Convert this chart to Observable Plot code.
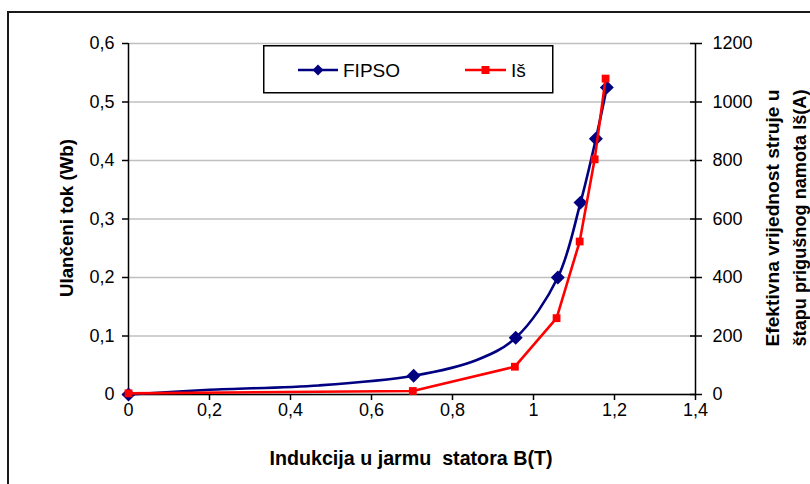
<!DOCTYPE html>
<html>
<head>
<meta charset="utf-8">
<script src="https://cdn.jsdelivr.net/npm/d3@7"></script>
<script src="https://cdn.jsdelivr.net/npm/@observablehq/plot@0.6"></script>
<style>
  html, body { margin: 0; padding: 0; background: #fff; overflow: hidden; }
  #wrap { position: relative; width: 810px; height: 484px; overflow: hidden; font-family: "Liberation Sans", Arial, sans-serif; }
  #frame { position: absolute; left: 7px; top: 11px; width: 900px; height: 600px; border: 2px solid #1a1a1a; box-sizing: border-box; }
  #chart { position: absolute; left: 0; top: 0; }
  #legend { position: absolute; left: 263px; top: 45px; }
</style>
</head>
<body>
<div id="wrap">
  <div id="frame"></div>
  <div id="chart"></div>
  <div id="legend"></div>
</div>
<script>
// ---- data ----
// FIPSO (left axis, Wb) – marker points
const fipsoB = [0, 0.704, 0.956, 1.060, 1.116, 1.154, 1.181];
const fipsoPsi = [0, 0.032, 0.097, 0.200, 0.328, 0.437, 0.525];
// FIPSO smoothed line points (includes unmarked intermediate points)
const fipsoLineB = [0, 0.20, 0.47, 0.704, 0.86, 0.956, 1.060, 1.116, 1.154, 1.181];
const fipsoLinePsi = [0, 0.008, 0.0155, 0.032, 0.059, 0.097, 0.200, 0.328, 0.437, 0.525];
// Iš (right axis, A)
const isB = [0, 0.702, 0.954, 1.057, 1.114, 1.151, 1.178];
const isA = [4, 12, 95, 261, 523, 804, 1080];

const xTicks = [0, 0.2, 0.4, 0.6, 0.8, 1, 1.2, 1.4];
const yTicks = [0, 0.1, 0.2, 0.3, 0.4, 0.5, 0.6];
const rightScale = 2000; // 0.6 Wb <-> 1200 A

const seriesNames = ["FIPSO", "Iš"];
const colors = ["#000080", "#ff0000"];
const xTitle = "Indukcija u jarmu  statora B(T)";
const yTitle = "Ulančeni tok (Wb)";
const y2Title = ["Efektivna vrijednost struje u", "štapu prigušnog namota Iš(A)"];

// ---- build tables ----
const fipsoPts = fipsoB.map((b, i) => ({ b, v: fipsoPsi[i] }));
const fipsoLine = fipsoLineB.map((b, i) => ({ b, v: fipsoLinePsi[i] }));
const isPts = isB.map((b, i) => ({ b, v: isA[i] / rightScale }));

const fmt = d => String(d).replace(".", ",");

const chart = Plot.plot({
  width: 810,
  height: 484,
  marginLeft: 128,
  marginRight: 115,
  marginTop: 43,
  marginBottom: 90,
  style: { fontFamily: "'Liberation Sans', Arial, sans-serif", fontSize: "18px", color: "#000", background: "transparent", overflow: "visible" },
  x: { domain: [0, 1.4] },
  y: { domain: [0, 0.6] },
  marks: [
    Plot.gridY(yTicks, { stroke: "#c0c0c0", strokeOpacity: 1, strokeWidth: 1.5 }),
    Plot.axisY(yTicks, { anchor: "left", tickSize: 6, tickPadding: 8, tickFormat: fmt, label: null, strokeWidth: 1.5 }),
    Plot.axisY(yTicks, { anchor: "right", tickSize: 12, dx: -6, tickPadding: 11, tickFormat: d => String(Math.round(d * rightScale)), label: null, strokeWidth: 1.5 }),
    Plot.axisX(xTicks, { anchor: "bottom", tickSize: 6, tickPadding: 3, tickFormat: fmt, label: null, strokeWidth: 1.5 }),
    Plot.ruleX([0, 1.4], { stroke: "#000", strokeWidth: 1.5 }),
    Plot.ruleY([0], { stroke: "#000", strokeWidth: 1.5 }),
    Plot.line(fipsoLine, { x: "b", y: "v", stroke: colors[0], strokeWidth: 2.6, curve: "catmull-rom" }),
    Plot.dot(fipsoPts, { x: "b", y: "v", symbol: "diamond2", r: 6.3, fill: colors[0], stroke: "none" }),
    Plot.line(isPts, { x: "b", y: "v", stroke: colors[1], strokeWidth: 2.6 }),
    Plot.dot(isPts, { x: "b", y: "v", symbol: "square", r: 4.4, fill: colors[1], stroke: "none" })
  ]
});
document.getElementById("chart").appendChild(chart);

// ---- axis titles ----
const svg = d3.select(chart);
const titleFont = "'Liberation Sans', Arial, sans-serif";
svg.append("text")
  .attr("x", 411).attr("y", 465)
  .attr("text-anchor", "middle")
  .attr("font-family", titleFont).attr("font-weight", "bold").attr("font-size", 20)
  .attr("textLength", 283).attr("lengthAdjust", "spacingAndGlyphs")
  .text(xTitle);
svg.append("text")
  .attr("transform", "translate(73,218) rotate(-90)")
  .attr("text-anchor", "middle")
  .attr("font-family", titleFont).attr("font-weight", "bold").attr("font-size", 19)
  .attr("textLength", 158).attr("lengthAdjust", "spacingAndGlyphs")
  .text(yTitle);
[779, 806].forEach((bx, i) => {
  svg.append("text")
    .attr("transform", `translate(${bx},218) rotate(-90)`)
    .attr("text-anchor", "middle")
    .attr("font-family", titleFont).attr("font-weight", "bold").attr("font-size", 19)
    .attr("textLength", 257).attr("lengthAdjust", "spacingAndGlyphs")
    .text(y2Title[i]);
});

// ---- legend ----
const lg = d3.select("#legend").append("svg").attr("width", 291).attr("height", 49);
lg.append("rect").attr("x", 0.75).attr("y", 0.75).attr("width", 289).attr("height", 47)
  .attr("fill", "#fff").attr("stroke", "#000").attr("stroke-width", 1.5);
const entries = [
  { x0: 35, x1: 75, tx: 80, sym: d3.symbolDiamond2, size: 78 },
  { x0: 202, x1: 243, tx: 248, sym: d3.symbolSquare, size: 64 }
];
entries.forEach((e, i) => {
  const cy = 25;
  lg.append("line").attr("x1", e.x0).attr("x2", e.x1).attr("y1", cy).attr("y2", cy)
    .attr("stroke", colors[i]).attr("stroke-width", 2.6);
  lg.append("path").attr("d", d3.symbol(e.sym, e.size)())
    .attr("transform", `translate(${(e.x0 + e.x1) / 2},${cy})`).attr("fill", colors[i]);
  lg.append("text").attr("x", e.tx).attr("y", cy).attr("dy", "0.36em")
    .attr("font-family", titleFont).attr("font-size", 19).text(seriesNames[i]);
});
</script>
</body>
</html>
